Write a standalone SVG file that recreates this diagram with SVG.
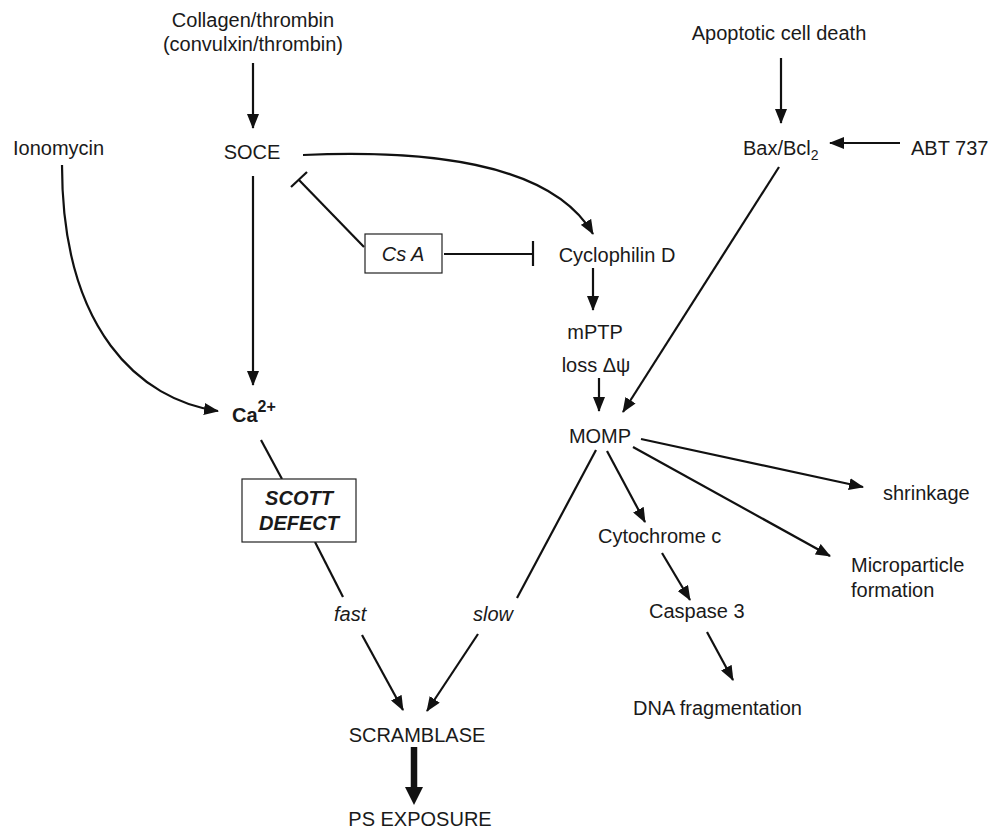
<svg xmlns="http://www.w3.org/2000/svg" width="992" height="831" viewBox="0 0 992 831">
<style>
text{font-family:"Liberation Sans",Arial,sans-serif;font-size:20px;fill:#1a1a1a}
.it{font-style:italic}
.c{text-anchor:middle}
.ln{stroke:#111;stroke-width:2.2;fill:none}
.box{fill:#fff;stroke:#222;stroke-width:1.2}
</style>
<defs>
<marker id="ah" markerUnits="userSpaceOnUse" markerWidth="15" markerHeight="12" refX="14" refY="6" orient="auto">
<path d="M0,0 L15,6 L0,12 z" fill="#111"/>
</marker>
</defs>
<rect width="992" height="831" fill="#fff"/>
<g id="connectors">
<line class="ln" x1="253" y1="63" x2="253" y2="128" marker-end="url(#ah)"/>
<line class="ln" x1="253" y1="176" x2="253" y2="385" marker-end="url(#ah)"/>
<path class="ln" d="M62,165 C62,330 140,400 218,411" marker-end="url(#ah)"/>
<path class="ln" d="M303,155 C420,150 550,160 593,234" marker-end="url(#ah)"/>
<line class="ln" x1="364" y1="247" x2="299" y2="180"/>
<line class="ln" x1="291" y1="187" x2="307" y2="172"/>
<line class="ln" x1="444" y1="254" x2="533" y2="254"/>
<line class="ln" x1="533" y1="241" x2="533" y2="266"/>
<line class="ln" x1="593" y1="268" x2="593" y2="310" marker-end="url(#ah)"/>
<line class="ln" x1="599" y1="378" x2="599" y2="411" marker-end="url(#ah)"/>
<line class="ln" x1="781" y1="58" x2="781" y2="123" marker-end="url(#ah)"/>
<line class="ln" x1="900" y1="143" x2="830" y2="143" marker-end="url(#ah)"/>
<line class="ln" x1="779" y1="167" x2="623" y2="412" marker-end="url(#ah)"/>
<line class="ln" x1="261" y1="440" x2="282" y2="479"/>
<line class="ln" x1="315" y1="542" x2="343" y2="597"/>
<line class="ln" x1="362" y1="635" x2="403" y2="710" marker-end="url(#ah)"/>
<line class="ln" x1="478" y1="634" x2="427" y2="711" marker-end="url(#ah)"/>
<line class="ln" x1="596" y1="450" x2="517" y2="598"/>
<line class="ln" x1="607" y1="451" x2="645" y2="522" marker-end="url(#ah)"/>
<line class="ln" x1="641" y1="439" x2="863" y2="487" marker-end="url(#ah)"/>
<line class="ln" x1="633" y1="447" x2="830" y2="556" marker-end="url(#ah)"/>
<line class="ln" x1="662" y1="553" x2="690" y2="600" marker-end="url(#ah)"/>
<line class="ln" x1="707" y1="632" x2="733" y2="680" marker-end="url(#ah)"/>
<line x1="414" y1="747" x2="414" y2="790" stroke="#111" stroke-width="6.5"/>
<polygon points="405,787 423,787 414,805" fill="#111"/>
</g>
<g id="collagen"><text class="c" x="253" y="27">Collagen/thrombin</text><text class="c" x="253" y="51">(convulxin/thrombin)</text></g>
<g id="ionomycin"><text x="13" y="155">Ionomycin</text></g>
<g id="soce"><text class="c" x="252" y="159">SOCE</text></g>
<g id="csa"><rect class="box" x="365" y="234" width="77" height="39"/><text class="c it" x="403" y="261">Cs A</text></g>
<g id="cyclophilin"><text class="c" x="617" y="262">Cyclophilin D</text></g>
<g id="mptp"><text class="c" x="595" y="339">mPTP</text></g>
<g id="loss"><text class="c" x="596" y="372">loss Δψ</text></g>
<g id="momp"><text class="c" x="600" y="443">MOMP</text></g>
<g id="apoptotic"><text class="c" x="779" y="40">Apoptotic cell death</text></g>
<g id="bax"><text x="743" y="155">Bax/Bcl<tspan font-size="14" dy="5">2</tspan></text></g>
<g id="abt"><text x="911" y="155">ABT 737</text></g>
<g id="ca"><text x="232" y="422" font-weight="bold" font-size="24">Ca<tspan font-size="16" dy="-10">2+</tspan></text></g>
<g id="scott"><rect class="box" x="242" y="479" width="114" height="63"/><text class="c it" x="299" y="505" font-weight="bold">SCOTT</text><text class="c it" x="299" y="530" font-weight="bold">DEFECT</text></g>
<g id="fast"><text class="it" x="334" y="621">fast</text></g>
<g id="slow"><text class="it" x="473" y="621">slow</text></g>
<g id="scramblase"><text class="c" x="417" y="742">SCRAMBLASE</text></g>
<g id="ps"><text class="c" x="420" y="826">PS EXPOSURE</text></g>
<g id="cytc"><text x="598" y="543">Cytochrome c</text></g>
<g id="casp"><text x="649" y="618">Caspase 3</text></g>
<g id="dna"><text x="633" y="715">DNA fragmentation</text></g>
<g id="shrink"><text x="883" y="500">shrinkage</text></g>
<g id="micro"><text x="851" y="572">Microparticle</text><text x="851" y="597">formation</text></g>
</svg>
